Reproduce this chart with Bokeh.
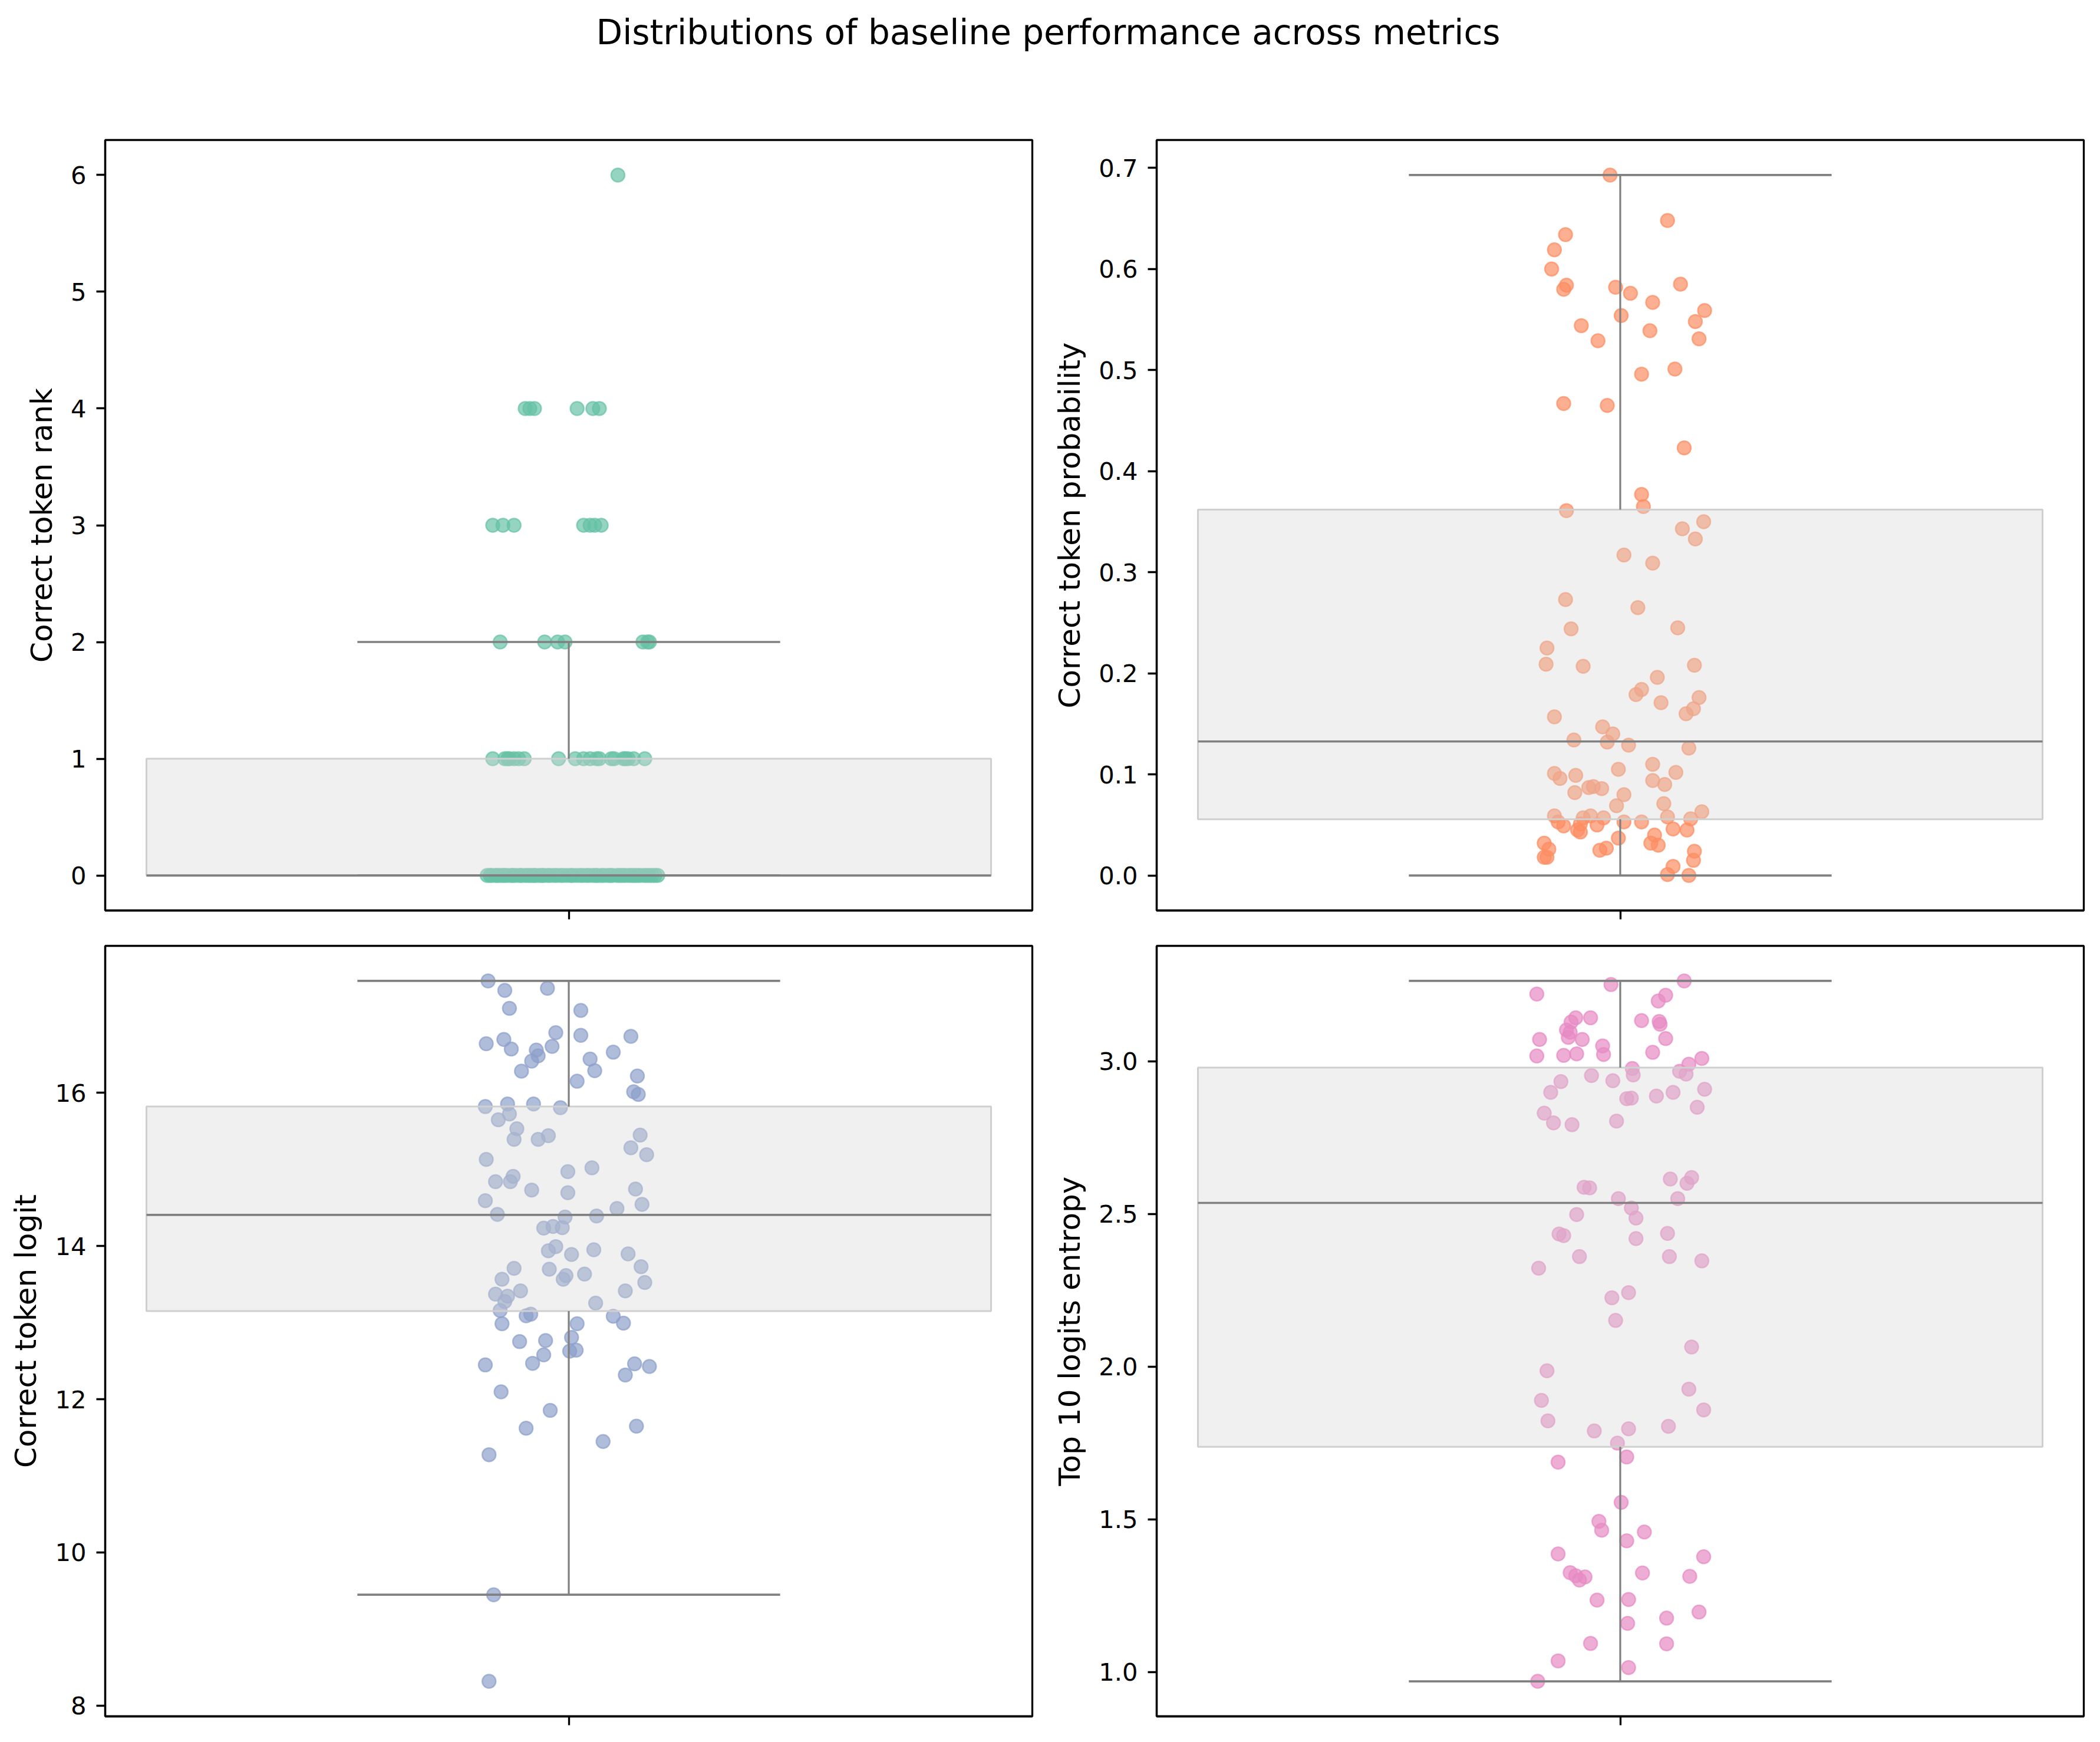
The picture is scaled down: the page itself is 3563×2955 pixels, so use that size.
from bokeh.plotting import figure
from bokeh.layouts import column, row
from bokeh.models import Range1d, FixedTicker, PrintfTickFormatter, CustomJSTickFormatter, Label
from bokeh.embed import file_html
from bokeh.resources import INLINE

FONT = "DejaVu Sans"
TITLE = "Distributions of baseline performance across metrics"

# ---------------- data ----------------
# Correct token rank (one entry per sample) and its horizontal jitter
rank_values = [6,
               4, 4, 4, 4, 4, 4,
               3, 3, 3, 3, 3, 3, 3,
               2, 2, 2, 2, 2, 2, 2,
               1, 1, 1, 1, 1, 1, 1, 1, 1, 1, 1, 1, 1, 1, 1, 1, 1, 1, 1, 1,
               0, 0, 0, 0, 0, 0, 0, 0, 0, 0, 0, 0, 0, 0, 0, 0, 0, 0, 0, 0,
               0, 0, 0, 0, 0, 0, 0, 0, 0, 0, 0, 0, 0, 0, 0, 0, 0, 0, 0, 0,
               0, 0, 0, 0, 0, 0, 0, 0, 0, 0, 0, 0, 0, 0, 0, 0, 0, 0, 0]
rank_jitter = [0.053,
               -0.047, -0.042, -0.037, 0.009, 0.026, 0.033,
               -0.082, -0.071, -0.059, 0.016, 0.023, 0.028, 0.035,
               -0.074, -0.026, -0.012, -0.004, 0.080, 0.085, 0.087,
               -0.082, -0.069, -0.064, -0.059, -0.054, -0.048, -0.011, 0.007, 0.016, 0.023,
               0.030, 0.046, 0.049, 0.059, 0.064, 0.070, 0.082, -0.066, 0.033, 0.061,
               -0.088, -0.085, -0.083, -0.079, -0.077, -0.074, -0.071, -0.069, -0.066, -0.062,
               -0.060, -0.057, -0.053, -0.051, -0.047, -0.044, -0.041, -0.038, -0.036, -0.032,
               -0.029, -0.027, -0.023, -0.020, -0.016, -0.013, -0.009, -0.006, -0.002, 0.002,
               0.004, 0.008, 0.012, 0.015, 0.019, 0.022, 0.026, 0.029, 0.031, 0.035,
               0.038, 0.042, 0.045, 0.047, 0.052, 0.055, 0.058, 0.061, 0.065, 0.068,
               0.071, 0.074, 0.077, 0.081, 0.084, 0.087, 0.090, 0.093, 0.096]
rank_box = dict(lo=0.0, q1=0.0, med=0.0, q3=1.0, hi=2.0)
rank_ticks = [0, 1, 2, 3, 4, 5, 6]

prob_values = [0.693, 0.648, 0.634, 0.619, 0.600, 0.584, 0.580, 0.582, 0.576, 0.585,
               0.567, 0.559, 0.554, 0.548, 0.544, 0.539, 0.531, 0.529, 0.501, 0.496,
               0.467, 0.465, 0.423, 0.377, 0.365, 0.361, 0.350, 0.343, 0.333, 0.317,
               0.309, 0.273, 0.265, 0.244, 0.245, 0.225, 0.209, 0.207, 0.208, 0.196,
               0.184, 0.179, 0.176, 0.171, 0.165, 0.160, 0.157, 0.147, 0.140, 0.134,
               0.132, 0.129, 0.126, 0.110, 0.105, 0.102, 0.101, 0.099, 0.096, 0.094,
               0.090, 0.088, 0.087, 0.086, 0.082, 0.080, 0.069, 0.071, 0.063, 0.059,
               0.059, 0.058, 0.057, 0.057, 0.053, 0.053, 0.053, 0.056, 0.051, 0.049,
               0.050, 0.046, 0.045, 0.045, 0.043, 0.040, 0.037, 0.032, 0.030, 0.032,
               0.026, 0.027, 0.025, 0.024, 0.018, 0.018, 0.015, 0.009, 0.001, 0.000]
prob_jitter = [-0.011, 0.051, -0.059, -0.071, -0.074, -0.058, -0.061, -0.005, 0.011, 0.065,
               0.035, 0.091, 0.001, 0.081, -0.042, 0.032, 0.085, -0.024, 0.059, 0.023,
               -0.061, -0.014, 0.069, 0.023, 0.025, -0.058, 0.090, 0.067, 0.081, 0.004,
               0.035, -0.059, 0.019, -0.053, 0.062, -0.079, -0.080, -0.040, 0.080, 0.040,
               0.023, 0.017, 0.085, 0.044, 0.079, 0.071, -0.071, -0.019, -0.008, -0.050,
               -0.014, 0.009, 0.074, 0.035, -0.002, 0.060, -0.071, -0.048, -0.065, 0.035,
               0.048, -0.029, -0.034, -0.020, -0.049, 0.004, -0.004, 0.047, 0.088, -0.071,
               -0.032, 0.051, -0.040, -0.018, -0.067, 0.004, 0.023, 0.076, -0.043, -0.061,
               -0.025, 0.057, 0.072, -0.046, -0.043, 0.037, -0.002, 0.033, 0.041, -0.082,
               -0.077, -0.015, -0.022, 0.080, -0.082, -0.079, 0.079, 0.057, 0.051, 0.074]
prob_box = dict(lo=0.0, q1=0.0556, med=0.1326, q3=0.362, hi=0.693)
prob_ticks = [0.0, 0.1, 0.2, 0.3, 0.4, 0.5, 0.6, 0.7]

logit_values = [17.462, 17.338, 17.366, 17.103, 17.076, 16.641, 16.697, 16.786, 16.752, 16.738,
                16.572, 16.559, 16.607, 16.531, 16.483, 16.414, 16.441, 16.283, 16.290, 16.221,
                16.152, 16.014, 15.979, 15.821, 15.855, 15.855, 15.807, 15.648, 15.724, 15.531,
                15.393, 15.393, 15.441, 15.448, 15.283, 15.193, 15.131, 15.021, 14.972, 14.910,
                14.841, 14.841, 14.731, 14.697, 14.745, 14.593, 14.545, 14.490, 14.414, 14.379,
                14.393, 14.234, 14.255, 14.241, 13.993, 13.938, 13.952, 13.890, 13.897, 13.710,
                13.697, 13.731, 13.634, 13.614, 13.566, 13.566, 13.524, 13.372, 13.414, 13.345,
                13.414, 13.276, 13.255, 13.159, 13.110, 13.090, 13.083, 12.986, 12.986, 12.993,
                12.752, 12.766, 12.807, 12.579, 12.628, 12.641, 12.448, 12.469, 12.462, 12.428,
                12.317, 12.097, 11.855, 11.621, 11.648, 11.448, 11.276, 9.448, 8.317]
logit_jitter = [-0.087, -0.069, -0.023, -0.064, 0.013, -0.089, -0.070, -0.014, 0.013, 0.067,
                -0.062, -0.035, -0.018, 0.048, -0.033, -0.040, 0.023, -0.051, 0.028, 0.074,
                0.009, 0.070, 0.075, -0.090, -0.066, -0.038, -0.009, -0.076, -0.064, -0.056,
                -0.059, -0.033, -0.022, 0.077, 0.067, 0.084, -0.089, 0.025, -0.001, -0.060,
                -0.079, -0.063, -0.040, -0.001, 0.072, -0.090, 0.079, 0.052, -0.077, -0.004,
                0.030, -0.027, -0.017, -0.007, -0.014, -0.022, 0.027, 0.003, 0.064, -0.059,
                -0.021, 0.078, 0.017, -0.003, -0.006, -0.072, 0.082, -0.079, -0.052, -0.066,
                0.061, -0.069, 0.029, -0.074, -0.041, -0.046, 0.048, -0.072, 0.009, 0.059,
                -0.053, -0.025, 0.003, -0.027, 0.001, 0.008, -0.090, -0.039, 0.071, 0.087,
                0.061, -0.073, -0.020, -0.046, 0.073, 0.037, -0.086, -0.081, -0.086]
logit_box = dict(lo=9.448, q1=13.152, med=14.407, q3=15.821, hi=17.462)
logit_ticks = [8, 10, 12, 14, 16]

entropy_values = [3.263, 3.251, 3.220, 3.216, 3.197, 3.142, 3.142, 3.128, 3.133, 3.130,
                  3.121, 3.102, 3.095, 3.078, 3.071, 3.071, 3.074, 3.050, 3.029, 3.024,
                  3.022, 3.017, 3.019, 3.009, 2.990, 2.976, 2.967, 2.958, 2.955, 2.953,
                  2.936, 2.933, 2.908, 2.898, 2.898, 2.879, 2.877, 2.886, 2.849, 2.830,
                  2.798, 2.792, 2.804, 2.619, 2.614, 2.600, 2.587, 2.585, 2.550, 2.550,
                  2.519, 2.498, 2.486, 2.434, 2.429, 2.436, 2.419, 2.360, 2.360, 2.346,
                  2.322, 2.242, 2.225, 2.151, 2.064, 1.986, 1.926, 1.889, 1.858, 1.822,
                  1.804, 1.796, 1.789, 1.749, 1.704, 1.687, 1.555, 1.493, 1.464, 1.458,
                  1.429, 1.386, 1.377, 1.325, 1.315, 1.311, 1.301, 1.324, 1.313, 1.235,
                  1.237, 1.196, 1.176, 1.159, 1.093, 1.092, 1.036, 1.014, 0.969]
entropy_jitter = [0.069, -0.010, -0.090, 0.049, 0.041, -0.032, -0.048, -0.053, 0.023, 0.042,
                  0.043, -0.058, -0.054, -0.056, -0.087, -0.041, 0.049, -0.019, 0.035, -0.047,
                  -0.018, -0.090, -0.061, 0.088, 0.074, 0.013, 0.064, 0.071, 0.014, -0.031,
                  -0.008, -0.064, 0.091, -0.075, 0.057, 0.012, 0.007, 0.039, 0.083, -0.082,
                  -0.072, -0.052, -0.004, 0.077, 0.054, 0.072, -0.039, -0.033, 0.062, -0.002,
                  0.012, -0.047, 0.017, -0.066, -0.061, 0.051, 0.017, -0.044, 0.053, 0.088,
                  -0.088, 0.009, -0.009, -0.005, 0.077, -0.079, 0.074, -0.085, 0.090, -0.078,
                  0.052, 0.009, -0.028, -0.003, 0.007, -0.067, 0.001, -0.023, -0.020, 0.026,
                  0.007, -0.067, 0.090, -0.054, -0.048, -0.038, -0.044, 0.024, 0.075, -0.025,
                  0.009, 0.085, 0.050, 0.008, -0.032, 0.050, -0.067, 0.009, -0.089]
entropy_box = dict(lo=0.969, q1=1.737, med=2.536, q3=2.979, hi=3.263)
entropy_ticks = [1.0, 1.5, 2.0, 2.5, 3.0]

labels = ["Correct token rank", "Correct token probability", "Correct token logit", "Top 10 logits entropy"]
colors = ["#66c2a5", "#fc8d62", "#8da0cb", "#e78ac3"]

# ---------------- style ----------------
BOX_HALF = 0.4555
CAP_HALF = 0.228
FRAME_W = 1573
FRAME_H = 1307
TICK_PX = "41.7px"
LABEL_PX = "50px"
LW = 3.3


def panel(vals, jit, box, ticks, fmt, ylabel, color, bl, br, bt, bb):
    lo_all = min(min(vals), box["lo"])
    hi_all = max(max(vals), box["hi"])
    pad = 0.05 * (hi_all - lo_all)
    p = figure(width=bl + FRAME_W + br, height=bt + FRAME_H + bb, title=None,
               x_range=Range1d(-0.5, 0.5), y_range=Range1d(lo_all - pad, hi_all + pad),
               output_backend="svg", toolbar_location=None, tools="",
               min_border_left=bl, min_border_right=br, min_border_top=bt, min_border_bottom=bb)
    p.background_fill_color = "white"
    p.border_fill_color = "white"
    p.grid.visible = False
    p.outline_line_color = "black"
    p.outline_line_width = LW

    # strip points
    p.scatter(x=jit, y=vals, size=23, marker="circle",
              fill_color=color, fill_alpha=0.7, line_color=color, line_alpha=0.7, line_width=2.5)

    # box (drawn over the points)
    p.quad(left=[-BOX_HALF], right=[BOX_HALF], bottom=[box["q1"]], top=[box["q3"]],
           fill_color="#d3d3d3", fill_alpha=0.35, line_color="#cfcfcf", line_width=3)
    # whiskers
    p.segment(x0=[0, 0], y0=[box["q3"], box["q1"]], x1=[0, 0], y1=[box["hi"], box["lo"]],
              line_color="#808080", line_width=3.2)
    p.segment(x0=[-CAP_HALF, -CAP_HALF], y0=[box["hi"], box["lo"]],
              x1=[CAP_HALF, CAP_HALF], y1=[box["hi"], box["lo"]],
              line_color="#808080", line_width=3.6)
    # median
    p.segment(x0=[-BOX_HALF], y0=[box["med"]], x1=[BOX_HALF], y1=[box["med"]],
              line_color="#808080", line_width=3.6)

    ya = p.yaxis[0]
    ya.ticker = FixedTicker(ticks=ticks)
    ya.formatter = PrintfTickFormatter(format=fmt)
    ya.axis_label = ylabel
    ya.axis_label_text_font = FONT
    ya.axis_label_text_font_size = LABEL_PX
    ya.axis_label_text_font_style = "normal"
    ya.axis_label_text_color = "black"
    ya.axis_label_standoff = 17
    ya.major_label_text_font = FONT
    ya.major_label_text_font_size = TICK_PX
    ya.major_label_text_color = "black"
    ya.major_label_standoff = 17
    ya.major_tick_out = 15
    ya.major_tick_in = 0
    ya.major_tick_line_width = LW
    ya.minor_tick_line_color = None
    ya.axis_line_width = LW

    xa = p.xaxis[0]
    xa.ticker = FixedTicker(ticks=[0])
    xa.formatter = CustomJSTickFormatter(code="return ''")
    xa.major_label_standoff = 0
    xa.major_tick_out = 15
    xa.major_tick_in = 0
    xa.major_tick_line_width = LW
    xa.minor_tick_line_color = None
    xa.axis_line_width = LW
    return p


TITLE_H = 150
TOTAL_W = 3554
title_fig = figure(width=TOTAL_W, height=TITLE_H, title=None, x_range=Range1d(0, 1), y_range=Range1d(0, 1),
                   x_axis_location=None, y_axis_location=None,
                   output_backend="svg", toolbar_location=None, tools="", min_border=0)
title_fig.grid.visible = False
title_fig.outline_line_color = None
title_fig.border_fill_color = "white"
# title text centred 54 px below the top of the 150 px strip
title_fig.add_layout(Label(x=1778 / TOTAL_W, y=1 - 54 / TITLE_H, text=TITLE,
                           text_align="center", text_baseline="middle", text_font=FONT,
                           text_font_size="58px", text_color="black"))

p1 = panel(rank_values, rank_jitter, rank_box, rank_ticks, "%d", labels[0], colors[0], 178, 20, 87, 30)
p2 = panel(prob_values, prob_jitter, prob_box, prob_ticks, "%.1f", labels[1], colors[1], 191, 10, 87, 30)
p3 = panel(logit_values, logit_jitter, logit_box, logit_ticks, "%d", labels[2], colors[2], 178, 20, 30, 30)
p4 = panel(entropy_values, entropy_jitter, entropy_box, entropy_ticks, "%.1f", labels[3], colors[3], 191, 10, 30, 30)

layout = column(title_fig, row(p1, p2), row(p3, p4))
open("out.html", "w").write(file_html(layout, INLINE))
